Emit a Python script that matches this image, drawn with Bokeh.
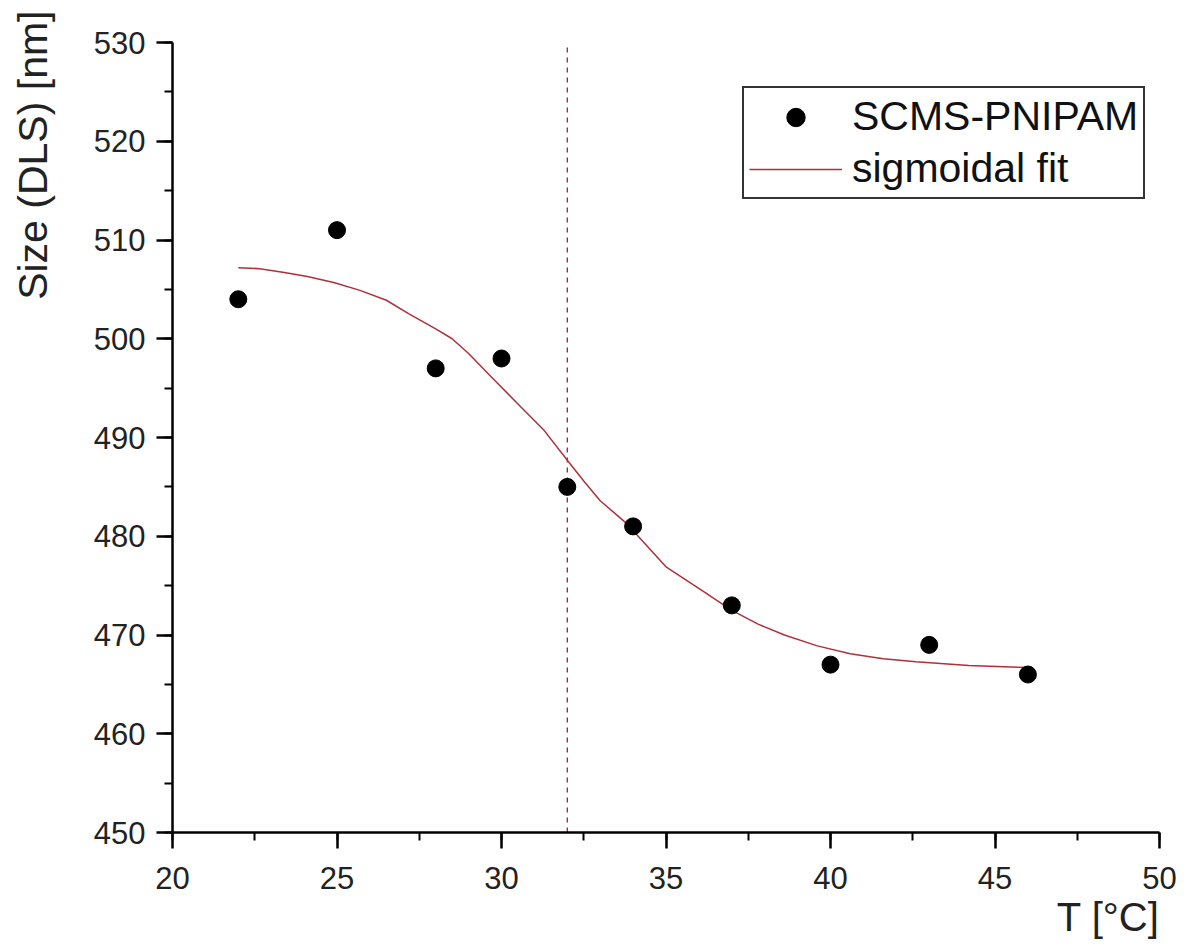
from bokeh.plotting import figure
from bokeh.models import Range1d, Legend, LegendItem, SingleIntervalTicker, Title
from bokeh.embed import file_html
from bokeh.resources import INLINE

# measured data
temps = [22, 25, 28, 30, 32, 34, 37, 40, 43, 46]
sizes = [504, 511, 497, 498, 485, 481, 473, 467, 469, 466]

# sigmoidal fit curve
fit_x = [22.0, 22.65, 23.4, 24.1, 24.9, 25.7, 26.5, 27.2, 28.0, 28.5, 29.0, 29.7, 30.5, 31.3, 32.0,
         32.5, 33.0, 33.8, 35.0, 36.1, 37.0, 37.8, 38.6, 39.6, 40.6, 41.6, 42.6, 44.2, 46.0]
fit_y = [507.2, 507.1, 506.7, 506.3, 505.7, 504.9, 503.9, 502.5, 501.0, 500.0, 498.5, 496.1, 493.4, 490.7, 487.7,
         485.6, 483.6, 481.3, 476.9, 474.5, 472.5, 471.1, 470.0, 468.9, 468.1, 467.6, 467.3, 466.9, 466.7]

# transition temperature marker
lcst_x = [32, 32]
lcst_y = [450, 530]

x_label = "T [°C]"
y_label = "Size (DLS) [nm]"
series_names = ["SCMS-PNIPAM", "sigmoidal fit"]

FONT = "Liberation Sans"

p = figure(width=1182, height=946, output_backend="svg", toolbar_location=None,
           x_range=Range1d(20, 50), y_range=Range1d(450, 530),
           min_border_left=172, min_border_right=23, min_border_top=42, min_border_bottom=114)
p.outline_line_color = None
p.grid.visible = False
p.background_fill_color = "white"
p.border_fill_color = "white"

p.xaxis.ticker = SingleIntervalTicker(interval=5, num_minor_ticks=2)
p.yaxis.ticker = SingleIntervalTicker(interval=10, num_minor_ticks=2)
for ax in (p.xaxis[0], p.yaxis[0]):
    ax.axis_line_width = 2.5
    ax.axis_line_color = "black"
    ax.major_tick_line_width = 2.5
    ax.major_tick_line_color = "black"
    ax.minor_tick_line_width = 2
    ax.minor_tick_line_color = "black"
    ax.major_tick_in = 0
    ax.major_tick_out = 16
    ax.minor_tick_in = 0
    ax.minor_tick_out = 8
    ax.major_label_text_font = FONT
    ax.major_label_text_font_size = "31px"
    ax.major_label_text_color = "#222222"
p.yaxis[0].major_label_standoff = 11
p.xaxis[0].major_label_standoff = 18
# empty spacer between the tick labels and the axis title
p.yaxis[0].axis_label = " "
p.yaxis[0].axis_label_text_font_size = "1px"
p.yaxis[0].axis_label_standoff = 29

fit_color = "#B0303A"

p.line(lcst_x, lcst_y, line_color="#A0203A", line_width=1.3, line_dash="5 5")
ln = p.line(fit_x, fit_y, line_color=fit_color, line_width=1.5)
sc = p.scatter(temps, sizes, marker="circle", size=17, fill_color="black", line_color="black")

legend = Legend(items=[LegendItem(label=series_names[0], renderers=[sc]),
                       LegendItem(label=series_names[1], renderers=[ln])],
                location=(570, 633), margin=0, padding=5, spacing=5,
                glyph_width=93, glyph_height=46, label_height=46, label_standoff=10,
                label_text_font=FONT, label_text_font_size="41px", label_text_color="#111111",
                border_line_color="#333333", border_line_width=2, border_line_alpha=1.0,
                background_fill_alpha=1.0)
p.add_layout(legend)

xt = Title(text=x_label, align="right", standoff=2, text_font=FONT, text_font_size="40px",
           text_font_style="normal", text_color="#222222")
yt = Title(text=y_label, align="right", vertical_align="top", offset=-32, standoff=0,
           text_font=FONT, text_font_size="41px",
           text_font_style="normal", text_color="#222222")
p.add_layout(xt, "below")
p.add_layout(yt, "left")

open("out.html", "w").write(file_html(p, INLINE))
